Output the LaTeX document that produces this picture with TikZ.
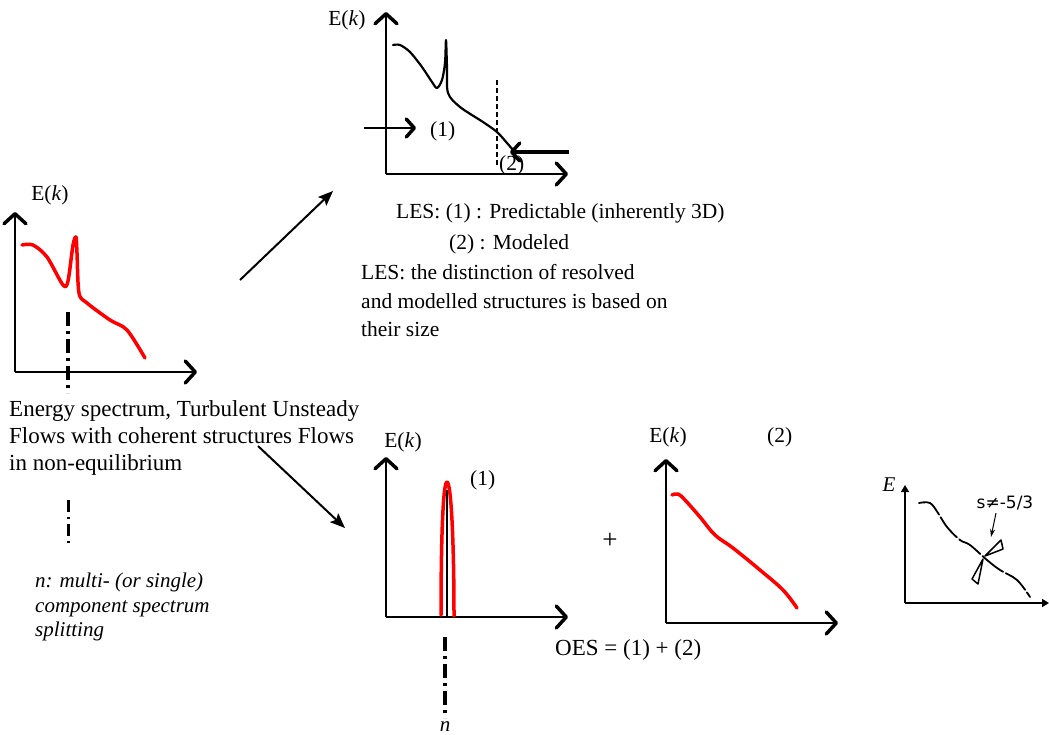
\documentclass[tikz,border=0pt]{standalone}
\usepackage{fontspec}
\setmainfont{Liberation Serif}
\newfontfamily\dejavu{DejaVu Sans}
\usetikzlibrary{arrows.meta}
\begin{document}
\begin{tikzpicture}[x=1pt,y=-1pt,
  axis/.style={line width=2.4pt,-{Straight Barb[length=10pt,width=22pt,line width=3.5pt,round]}},
  smallaxis/.style={line width=1.8pt,-{Triangle[length=7pt,width=8pt]}},
  redcurve/.style={red,line width=3.5pt,line cap=round,line join=round},
  blackcurve/.style={black,line width=2.2pt,line cap=round,line join=round},
  ddline/.style={line width=4.5pt,dash pattern=on 14pt off 5pt on 3pt off 5pt},
  ddsmall/.style={line width=3pt,dash pattern=on 12pt off 5pt on 2pt off 5pt},
  bigarrow/.style={line width=2pt,-{Stealth[length=15pt,width=12pt,inset=3pt]}},
  lbl/.style={font=\fontsize{21.5}{25}\selectfont,inner sep=0pt,anchor=base west},
  biglbl/.style={font=\fontsize{23}{27}\selectfont,inner sep=0pt,anchor=base west},
  itlbl/.style={font=\fontsize{21}{25}\selectfont\itshape,inner sep=0pt,anchor=base west}]
\useasboundingbox[fill=white] (0,0) rectangle (1049,734);

% ---------- Panel 1 (left) ----------
\coordinate (p1o) at (15,372);
\draw[axis] (p1o) -- (15,212);
\draw[axis] (p1o) -- (197,372);
\node[lbl,anchor=base] (p1E) at (50,200) {E(\textit{k})};
\draw[redcurve] plot[smooth,tension=0.5] coordinates {(22,245) (33,245) (47,257) (63,285) (68,281) (73,245) (76,237) (77,253) (79,293) (87,303) (110,320) (127,330) (145,358)};
\draw[ddline] (68,312) -- (68,393);

\node[biglbl] (t1a) at (9,416) {Energy spectrum, Turbulent Unsteady};
\node[biglbl] (t1b) at (9,443) {Flows with coherent structures Flows};
\node[biglbl] (t1c) at (9,470) {in non-equilibrium};
\draw[ddsmall] (68,500) -- (68,545);
\node[itlbl] (n1) at (35,587) {n: multi- (or single)};
\node[itlbl] (n2) at (35,612) {component spectrum};
\node[itlbl] (n3) at (35,636) {splitting};

% connectors between panels
\coordinate (a1s) at (240,280);
\coordinate (a1e) at (333,191);
\draw[bigarrow] (a1s) -- (a1e);
\coordinate (a2s) at (258,446);
\coordinate (a2e) at (345,528);
\draw[bigarrow] (a2s) -- (a2e);

% ---------- Panel 2 (top, LES) ----------
\coordinate (p2o) at (386,174);
\draw[axis] (p2o) -- (386,12);
\draw[axis] (p2o) -- (568,174);
\node[lbl,anchor=base] (p2E) at (347,25) {E(\textit{k})};
\draw[blackcurve] plot[smooth,tension=0.5] coordinates {(393,45) (400,45) (410,52) (422,67) (432,82) (437,88) (442,80) (445,63) (446,40) (447,67) (448,93) (460,107) (483,122) (497,132) (507,143) (513,150)};
\draw[line width=1.3pt,dash pattern=on 5pt off 3pt] (497,80) -- (497,165);
\draw[line width=1.6pt,-{Straight Barb[length=8pt,width=18pt,line width=3.5pt,round]}] (364,128) -- (416,128);
\node[lbl] (l1) at (430,136) {(1)};
\draw[line width=3.8pt,-{Straight Barb[length=8pt,width=18pt,line width=3.5pt,round]}] (569,152) -- (510,152);
\node[lbl] (l2) at (499,170) {(2)};

\node[lbl] (les1) at (396,218) {LES: (1) : Predictable (inherently 3D)};
\node[lbl] (les2) at (449,249) {(2) : Modeled};
\node[lbl] (les3) at (361,279) {LES: the distinction of resolved};
\node[lbl] (les4) at (361,308) {and modelled structures is based on};
\node[lbl] (les5) at (361,336) {their size};

% ---------- Panel 3 (bottom middle, (1)) ----------
\coordinate (p3o) at (386,617);
\draw[axis] (p3o) -- (386,457);
\draw[axis] (p3o) -- (568,617);
\node[lbl,anchor=base] (p3E) at (403,447) {E(\textit{k})};
\node[lbl] (p3l) at (470,485) {(1)};
\draw[line width=1.2pt] (447,490) -- (447,616);
\draw[redcurve] (441,615) .. controls (441,540) and (443,482) .. (447,482) .. controls (451,482) and (454,540) .. (454,616);
\draw[ddline] (445,637) -- (445,718);
\node[itlbl,anchor=base] (nlab) at (445,731) {n};

\node[font=\fontsize{27}{30}\selectfont,inner sep=0pt] (plus) at (610,541) {+};

% ---------- Panel 4 ((2)) ----------
\coordinate (p4o) at (666,623);
\draw[axis] (p4o) -- (666,459);
\draw[axis] (p4o) -- (838,623);
\node[lbl,anchor=base] (p4E) at (668,442) {E(\textit{k})};
\node[lbl] (p4l) at (767,442) {(2)};
\draw[redcurve] plot[smooth,tension=0.6] coordinates {(672,495) (678,494) (685,500) (700,517) (715,535) (733,548) (760,570) (783,590) (797,608)};
\node[biglbl] (oes) at (555,655) {OES = (1) + (2)};

% ---------- Panel 5 (E, slope) ----------
\coordinate (p5o) at (905,603);
\draw[smallaxis] (p5o) -- (905,485);
\draw[smallaxis] (p5o) -- (1049,603);
\node[itlbl,anchor=base] (p5E) at (889,491) {E};
\draw[line width=1.8pt,dash pattern=on 26pt off 3pt,line cap=round] plot[smooth,tension=0.6] coordinates {(919,503) (930,503) (938,513) (947,527) (960,540) (970,545) (987,560) (1000,570) (1017,580) (1030,597)};
\draw[line width=1.5pt,line join=round] (985,556) -- (1001,540) -- (1003,549) -- cycle;
\draw[line width=1.5pt,line join=round] (983,559) -- (972,579) -- (978,584) -- cycle;
\node[font=\dejavu\fontsize{17}{20}\selectfont,inner sep=0pt,anchor=base] (slope) at (1005,508) {s≠-5/3};
\coordinate (sarr) at (996,513);
\draw[line width=1pt,-{Stealth[length=8pt,width=5pt]}] (sarr) -- (991,537);
\end{tikzpicture}
\end{document}
